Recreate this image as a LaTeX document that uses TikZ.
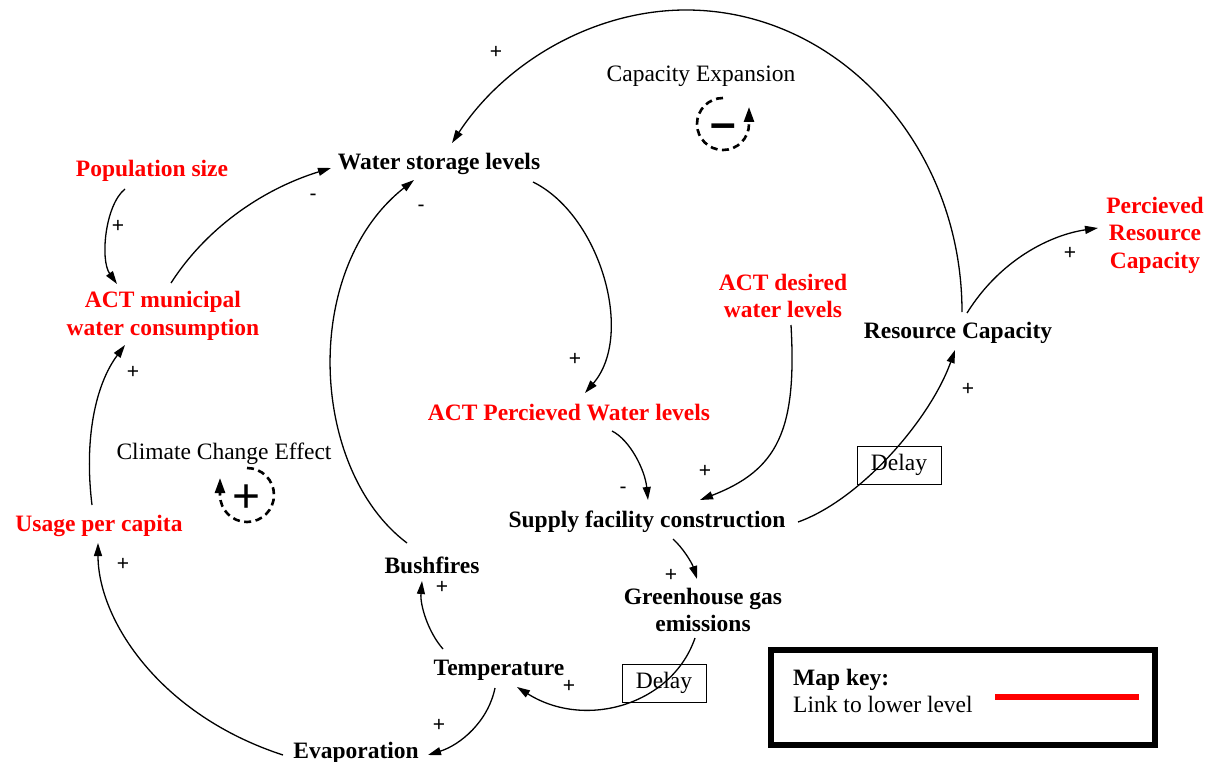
\documentclass[tikz,border=0pt]{standalone}
\usepackage{fontspec}
\setmainfont{Liberation Serif}
\newfontfamily\signfont{Liberation Sans}
\usetikzlibrary{arrows.meta,calc}

\begin{document}
\begin{tikzpicture}[x=1pt,y=-1pt,
  every node/.style={inner sep=0pt, font=\fontsize{23.5}{27.5}\selectfont},
  var/.style={font=\fontsize{23.5}{27.5}\selectfont\bfseries, align=center},
  link/.style={var, text=red},
  loopname/.style={font=\fontsize{23.5}{27.5}\selectfont},
  sign/.style={font=\signfont\fontsize{21}{21}\selectfont},
  conn/.style={line width=1.3pt, -{Triangle[length=13pt,width=8pt]}},
  delaybox/.style={draw, line width=0.9pt, minimum width=84pt, minimum height=38pt},
  loopcirc/.style={line width=2.6pt, dash pattern=on 7pt off 4.5pt, -{Triangle[length=15pt,width=10pt]}},
]
\useasboundingbox (0,0) rectangle (1217,762);

% variables
\node[link] (pop) at (152,171) {Population size};
\node[link] (mun) at (163,316) {ACT municipal\\water consumption};
\node[var] (ws) at (439,164) {Water storage levels};
\node[loopname] (capexp) at (701,76) {Capacity Expansion};
\node[loopname] (clim) at (224,454) {Climate Change Effect};
\node[link] (usage) at (99,526) {Usage per capita};
\node[var] (bush) at (432,565) {Bushfires};
\node[var] (temp) at (499,670) {Temperature};
\node[var] (evap) at (356,753) {Evaporation};
\node[var] (ghg) at (703,610) {Greenhouse gas\\emissions};
\node[var] (sup) at (647,522) {Supply facility construction};
\node[link] (perc) at (569,413) {ACT Percieved Water levels};
\node[link] (des) at (783,296) {ACT desired\\water levels};
\node[var] (rc) at (958,333) {Resource Capacity};
\node[link] (prc) at (1155,235) {Percieved\\Resource\\Capacity};
\node[delaybox] (d1) at (899,465) {Delay};
\node[delaybox] (d2) at (664,683) {Delay};

% causal links
\draw[conn] ($(pop)+(-27,18)$) .. controls (105,205) and (100,260) .. ($(mun)+(-46,-32)$);
\draw[conn] ($(mun)+(8,-33)$) .. controls (205,230) and (260,190) .. ($(ws)+(-108,4)$);
\draw[conn] ($(rc)+(4,-21)$) .. controls (962,145) and (838,10) .. (686,10)
            .. controls (594,10) and (505,62) .. ($(ws)+(13,-21)$);
\draw[conn] ($(ws)+(94,18)$) .. controls (600,215) and (635,335) .. ($(perc)+(16,-20)$);
\draw[conn] ($(perc)+(43,18)$) .. controls (630,440) and (645,470) .. ($(sup)+(1,-22)$);
\draw[conn] ($(des)+(8,29)$) .. controls (797,430) and (778,470) .. ($(sup)+(53,-22)$);
\draw[conn] ($(sup)+(151,0)$) .. controls (860,500) and (930,420) .. ($(rc)+(-3,17)$);
\draw[conn] ($(rc)+(9,-20)$) .. controls (1000,260) and (1050,235) .. ($(prc)+(-57,-7)$);
\draw[conn] ($(sup)+(26,17)$) .. controls (683,548) and (692,563) .. ($(ghg)+(-6,-31)$);
\draw[conn] ($(ghg)+(-8,28)$) .. controls (672,705) and (585,730) .. ($(temp)+(18,17)$);
\draw[conn] ($(temp)+(-56,-21)$) .. controls (428,632) and (420,605) .. ($(bush)+(-10,16)$);
\draw[conn] ($(temp)+(-4,18)$) .. controls (488,722) and (460,745) .. ($(evap)+(72,2)$);
\draw[conn] ($(evap)+(-73,2)$) .. controls (160,715) and (98,620) .. ($(usage)+(-1,17)$);
\draw[conn] ($(usage)+(-7,-21)$) .. controls (84,440) and (95,385) .. ($(mun)+(-38,29)$);
\draw[conn] ($(bush)+(-25,-22)$) .. controls (310,470) and (300,270) .. ($(ws)+(-25,16)$);

% polarity signs
\node[sign] (s1) at (118,226) {+};
\node[sign] (s2) at (313,197) {-};
\node[sign] (s3) at (496,52) {+};
\node[sign] (s4) at (421,208) {-};
\node[sign] (s5) at (575,359) {+};
\node[sign] (s6) at (623,490) {-};
\node[sign] (s7) at (705,471) {+};
\node[sign] (s8) at (968,389) {+};
\node[sign] (s9) at (1070,253) {+};
\node[sign] (s10) at (671,575) {+};
\node[sign] (s11) at (569,686) {+};
\node[sign] (s12) at (442,587) {+};
\node[sign] (s13) at (439,725) {+};
\node[sign] (s14) at (123,564) {+};
\node[sign] (s15) at (133,372) {+};

% loop markers
\draw[loopcirc] (723,98) arc[start angle=270, end angle=0, radius=26] -- ++(0,-17);
\node[font=\signfont\bfseries\fontsize{46}{46}\selectfont] (minus) at (723,131) {–};
\draw[loopcirc] (247,468) arc[start angle=270, end angle=540, radius=27] -- ++(0,-17);
\node[font=\signfont\fontsize{48}{48}\selectfont] (plus) at (247,499) {+};

% map key
\node[draw, line width=6pt, minimum width=384pt, minimum height=95pt] (key) at (963,697.5) {};
\node[anchor=west, font=\fontsize{23.5}{27.5}\selectfont\bfseries] (keytitle) at (793,680) {Map key:};
\node[anchor=west] (keytext) at (793,704) {Link to lower level};
\draw[red, line width=6pt] (995,697) -- (1139,697);
\end{tikzpicture}
\end{document}
